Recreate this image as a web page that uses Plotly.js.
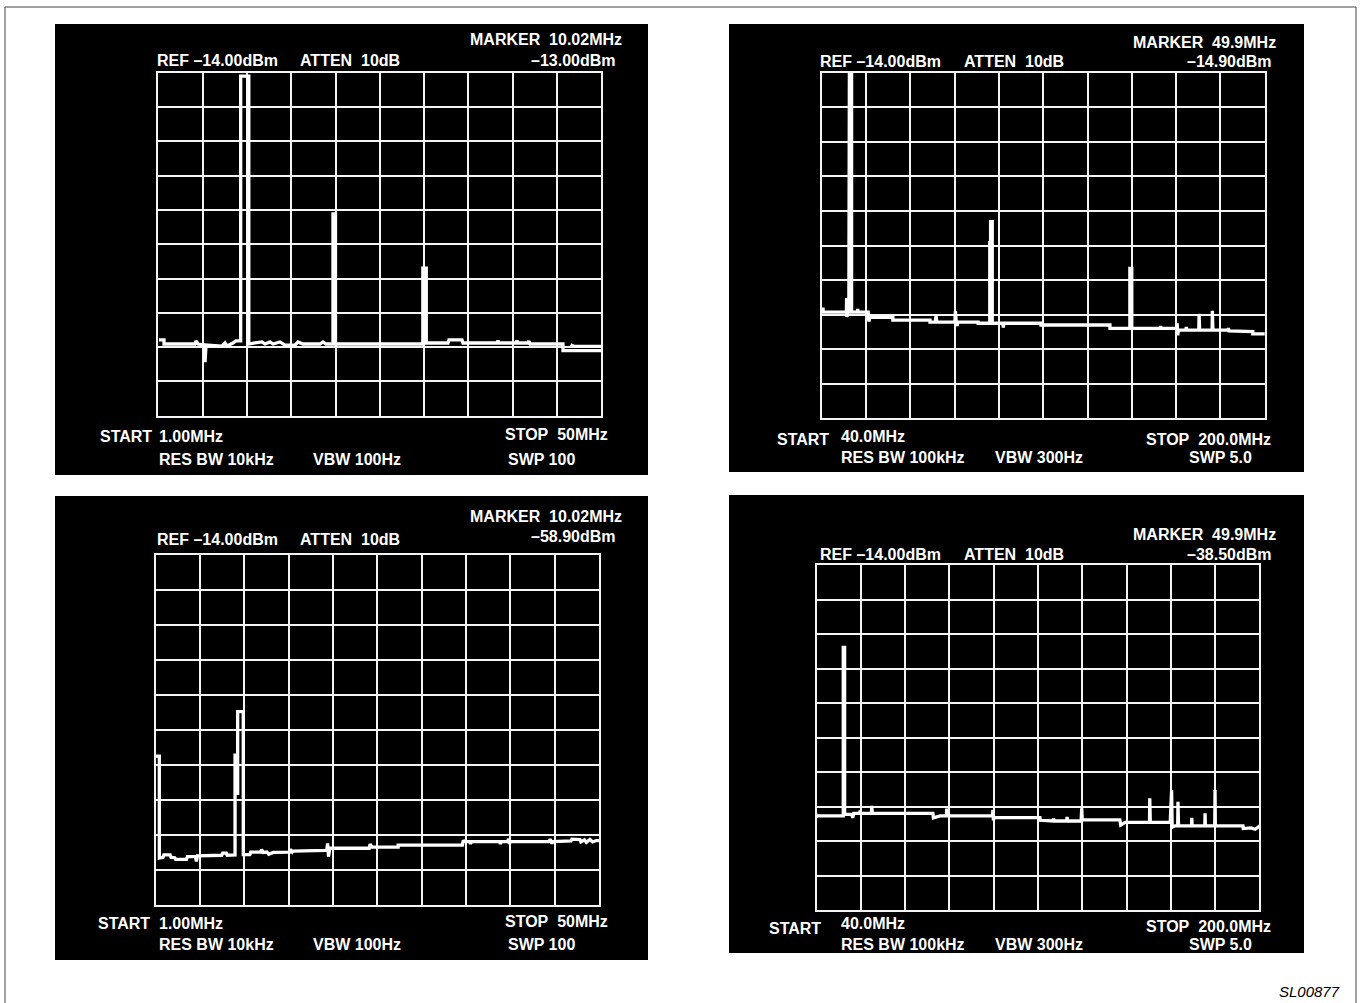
<!DOCTYPE html>
<html>
<head>
<meta charset="utf-8">
<script src="https://cdn.plot.ly/plotly-3.0.1.min.js"></script>
<style>html,body{margin:0;padding:0;background:#fff;}#chart{width:1360px;height:1003px;}</style>
</head>
<body>
<div id="chart"></div>
<script>
// ---------- DATA (frequency in MHz, level in dBm, read from the screens) ----------
const p1Freq  = [1.08,1.63,1.63,5.06,5.17,5.39,6.11,6.17,6.28,8.05,8.38,8.60,9.26,9.59,10.11,10.11,11.01,11.01,11.70,12.47,12.80,13.36,13.69,14.46,15.02,16.12,16.45,17.0,18.89,19.22,19.55,20.32,20.32,20.60,20.60,30.26,30.26,30.64,30.64,33.04,33.15,34.59,34.70,38.46,38.57,38.68,40.56,40.67,40.79,41.89,42.0,42.11,45.76,45.76,50.2,50.2,47.0,46.6];
const p1Level = [-91.9,-91.9,-93.1,-93.1,-92.2,-93.1,-93.4,-98.4,-93.4,-93.7,-92.8,-93.7,-92.8,-92.2,-92.2,-15.0,-15.0,-93.1,-92.8,-92.5,-93.1,-92.5,-93.1,-92.5,-93.4,-93.4,-92.5,-93.1,-93.1,-92.5,-93.1,-93.1,-55.2,-55.2,-93.1,-93.1,-71.0,-71.0,-92.8,-92.8,-91.9,-91.9,-92.8,-92.8,-92.1,-92.8,-92.8,-92.1,-92.8,-92.8,-92.2,-93.1,-93.1,-95.0,-95.0,-93.8,-93.8,-93.3];

const p2Freq  = [39.8,40.5,40.5,48.9,49.0,49.1,49.3,49.8,49.8,50.0,50.0,50.8,50.8,52.8,53.0,53.2,56.8,56.8,57.1,57.3,65.7,65.7,79.1,79.1,81.0,81.3,81.6,88.1,88.3,88.6,88.9,89.2,96.5,96.5,100.7,100.7,101.0,101.0,101.6,101.6,105.4,105.6,105.8,119.2,119.2,144.1,144.1,151.3,151.3,152.0,152.0,162.2,162.4,162.6,168.3,168.4,168.6,168.8,171.5,171.7,171.9,176.2,176.3,176.5,181.0,181.1,181.3,186.7,186.9,187.1,195.7,195.7,201.2];
const p2Level = [-82.4,-82.4,-83.3,-83.3,-79.2,-84.7,-83.3,-83.3,-76.9,-76.9,-13.5,-13.5,-83.3,-83.3,-82.4,-83.3,-83.3,-84.8,-86.0,-84.8,-84.8,-85.6,-85.6,-86.2,-86.2,-84.4,-86.2,-86.2,-83.0,-86.3,-87.3,-86.2,-86.2,-86.5,-86.5,-63.2,-63.2,-57.1,-57.1,-86.5,-86.5,-87.7,-86.5,-86.5,-87.0,-87.0,-88.0,-88.0,-70.6,-70.6,-88.0,-88.0,-87.3,-88.0,-88.0,-86.5,-90.0,-88.5,-88.5,-87.6,-88.5,-88.5,-83.8,-88.5,-88.5,-82.9,-88.5,-88.5,-87.9,-88.7,-88.9,-89.6,-89.6];

const p3Freq  = [1.03,1.40,1.40,1.81,1.9,2.6,2.7,3.1,3.2,4.4,4.5,5.4,5.5,5.6,8.3,8.4,8.8,8.9,9.77,9.77,10.06,10.06,10.06,10.68,10.68,11.4,11.5,12.6,12.7,12.9,13.3,13.5,14.0,15.8,15.9,16.1,16.2,19.8,19.9,20.0,20.1,20.25,24.6,24.7,24.9,25.2,25.4,27.8,27.8,34.9,35.0,35.1,35.7,35.8,35.9,39.0,39.1,39.2,39.9,40.0,40.1,40.2,44.5,44.6,44.8,44.9,46.9,47.0,47.9,48.0,48.4,48.6,49.0,49.3,49.7,50.0];
const p3Level = [-71.5,-71.5,-100.6,-100.4,-99.7,-99.7,-100.4,-100.5,-101.0,-101.0,-100.2,-100.2,-101.6,-100.0,-99.8,-99.2,-99.2,-99.8,-99.7,-71.2,-71.2,-82.6,-58.8,-58.8,-99.6,-99.6,-98.9,-98.9,-98.2,-99.0,-98.9,-99.5,-99.0,-98.9,-98.1,-98.9,-98.6,-98.4,-98.4,-96.4,-100.2,-97.8,-97.8,-96.6,-97.5,-97.5,-97.5,-97.5,-96.9,-96.9,-95.5,-95.9,-95.9,-96.6,-95.9,-95.9,-96.6,-95.9,-95.9,-95.1,-96.6,-95.9,-95.9,-95.2,-96.5,-95.9,-95.7,-95.2,-95.3,-96.0,-95.4,-96.1,-95.3,-96.0,-95.6,-95.6];

const p4Freq  = [39.5,39.6,39.8,40.2,49.6,49.6,50.1,50.1,52.7,53.0,53.4,55.5,55.7,56.0,59.8,59.9,60.1,82.0,82.2,84.6,86.9,87.0,87.2,103.5,103.7,103.9,104.1,120.7,120.8,125.4,125.6,126.0,130.4,130.5,130.7,135.6,135.8,136.0,149.6,149.9,151.5,160.3,160.4,160.6,167.8,168.3,168.5,169.5,170.5,170.6,170.8,175.5,175.6,175.7,180.3,180.4,180.5,183.9,184.0,184.1,194.1,194.2,197.0,198.5,200.2];
const p4Level = [-86.7,-85.8,-87.0,-86.7,-86.7,-37.9,-37.9,-86.3,-86.3,-87.3,-86.0,-86.0,-85.2,-86.0,-86.0,-83.8,-86.0,-86.0,-87.3,-86.7,-86.7,-84.6,-86.7,-86.7,-85.0,-88.0,-87.2,-87.2,-88.0,-88.2,-87.5,-88.2,-88.2,-87.0,-88.2,-88.2,-84.5,-87.9,-87.9,-89.4,-88.6,-88.6,-81.6,-88.6,-88.6,-79.2,-90.0,-89.6,-89.6,-82.6,-89.6,-89.6,-87.3,-89.6,-89.6,-86.0,-89.6,-89.6,-79.2,-89.6,-89.6,-90.4,-90.2,-90.6,-89.6];

// analyzer settings (start/stop MHz, reference level dBm)
const spanStart = [1.0, 40.0, 1.0, 40.0];
const spanStop  = [50.0, 200.0, 50.0, 200.0];
const refLevel  = -14.0;
const dbPerDiv  = 10;

// screen labels
const markerText = ['MARKER\u00a0\u00a010.02MHz','MARKER\u00a0\u00a049.9MHz','MARKER\u00a0\u00a010.02MHz','MARKER\u00a0\u00a049.9MHz'];
const markerLvl  = ['\u201313.00dBm','\u201314.90dBm','\u201358.90dBm','\u201338.50dBm'];
const refText    = 'REF\u00a0\u201314.00dBm';
const attenText  = 'ATTEN\u00a0\u00a010dB';
const startText  = ['1.00MHz','40.0MHz','1.00MHz','40.0MHz'];
const stopText   = ['STOP\u00a0\u00a050MHz','STOP\u00a0\u00a0200.0MHz','STOP\u00a0\u00a050MHz','STOP\u00a0\u00a0200.0MHz'];
const resBwText  = ['RES BW 10kHz','RES BW 100kHz','RES BW 10kHz','RES BW 100kHz'];
const vbwText    = ['VBW 100Hz','VBW 300Hz','VBW 100Hz','VBW 300Hz'];
const swpText    = ['SWP 100','SWP 5.0','SWP 100','SWP 5.0'];
const figCode    = 'SL00877';

// ---------- LAYOUT ----------
const W = 1360, H = 1003;
const px = v => v / W;
const py = v => 1 - v / H;
const FONT = 'Liberation Sans, Arial, Helvetica, sans-serif';

// grid boxes (pixels) and black screen boxes (pixels)
const grids = [
  {x0:158.3, x1:601.3, y0:72.7, y1:415.7},
  {x0:821.7, x1:1264.7, y0:72.7, y1:418.3},
  {x0:155.7, x1:599.0, y0:554.7, y1:905.0},
  {x0:816.7, x1:1259.3, y0:565.0, y1:910.0}
];
const screens = [
  {x0:55, x1:648, y0:24, y1:475},
  {x0:729, x1:1304, y0:24, y1:472},
  {x0:55, x1:648, y0:496, y1:960},
  {x0:729, x1:1304, y0:495, y1:953}
];
// label anchor positions per screen (pixels)
const lab = [
  {mk:[623,40], ml:[617,60], ref:[156,61], att:[299,61], st:[99,436], sv:[158,436], sp:[609,434], rb:[158,459], vb:[312,459], sw:[507,459]},
  {mk:[1277,42], ml:[1273,62], ref:[819,62], att:[963,62], st:[776,439], sv:[840,436], sp:[1272,439], rb:[840,457], vb:[994,457], sw:[1188,457]},
  {mk:[623,516], ml:[617,536], ref:[156,539], att:[299,539], st:[97,923], sv:[158,923], sp:[609,921], rb:[158,944], vb:[312,944], sw:[507,944]},
  {mk:[1277,534], ml:[1273,554], ref:[819,554], att:[963,554], st:[768,928], sv:[840,923], sp:[1272,926], rb:[840,944], vb:[994,944], sw:[1188,944]}
];

const freqs = [p1Freq, p2Freq, p3Freq, p4Freq];
const levels = [p1Level, p2Level, p3Level, p4Level];

const data = [];
const layout = {
  width: W, height: H,
  margin: {l:0, r:0, t:0, b:0},
  paper_bgcolor: '#ffffff',
  plot_bgcolor: '#000000',
  showlegend: false,
  shapes: [],
  annotations: []
};

layout.shapes.push({type:'rect', xref:'paper', yref:'paper', x0:px(5), x1:px(1356), y0:py(1015), y1:py(7),
  line:{color:'#444', width:1}, fillcolor:'rgba(0,0,0,0)', layer:'below'});

function addText(t, p, anchor, size) {
  layout.annotations.push({
    xref:'paper', yref:'paper', x:px(p[0]), y:py(p[1]),
    xanchor:anchor, yanchor:'middle', showarrow:false,
    text:'<b>' + t + '</b>', font:{family:FONT, size:size || 16, color:'#ffffff'},
    borderpad:0
  });
}

for (let i = 0; i < 4; i++) {
  const g = grids[i], s = screens[i];
  const sfx = i === 0 ? '' : String(i + 1);
  layout.shapes.push({type:'rect', xref:'paper', yref:'paper', x0:px(s.x0), x1:px(s.x1), y0:py(s.y1), y1:py(s.y0),
    line:{width:0}, fillcolor:'#000000', layer:'below'});
  const span = spanStop[i] - spanStart[i];
  layout['xaxis' + sfx] = {
    domain:[px(g.x0), px(g.x1)], range:[spanStart[i], spanStop[i]],
    tick0:spanStart[i], dtick:span / 10, showticklabels:false, ticks:'',
    showgrid:true, gridcolor:'#f4f4f4', gridwidth:2, zeroline:false,
    showline:true, linecolor:'#f4f4f4', linewidth:2, mirror:true,
    anchor:'y' + sfx, fixedrange:true
  };
  layout['yaxis' + sfx] = {
    domain:[py(g.y1), py(g.y0)], range:[refLevel - 10 * dbPerDiv, refLevel],
    tick0:refLevel, dtick:dbPerDiv, showticklabels:false, ticks:'',
    showgrid:true, gridcolor:'#f4f4f4', gridwidth:2, zeroline:false,
    showline:true, linecolor:'#f4f4f4', linewidth:2, mirror:true,
    anchor:'x' + sfx, fixedrange:true
  };
  data.push({
    type:'scatter', mode:'lines', x:freqs[i], y:levels[i],
    xaxis:'x' + sfx, yaxis:'y' + sfx,
    line:{color:'#ffffff', width:3.3}, hoverinfo:'skip'
  });
  const L = lab[i];
  addText(markerText[i], L.mk, 'right');
  addText(markerLvl[i], L.ml, 'right');
  addText(refText, L.ref, 'left');
  addText(attenText, L.att, 'left');
  addText('START', L.st, 'left');
  addText(startText[i], L.sv, 'left');
  addText(stopText[i], L.sp, 'right');
  addText(resBwText[i], L.rb, 'left');
  addText(vbwText[i], L.vb, 'left');
  addText(swpText[i], L.sw, 'left');
}

layout.annotations.push({
  xref:'paper', yref:'paper', x:px(1341), y:py(991), xanchor:'right', yanchor:'middle',
  showarrow:false, text:'<i>' + figCode + '</i>', font:{family:FONT, size:15, color:'#000000'}, borderpad:0
});

Plotly.newPlot('chart', data, layout, {staticPlot:true, displayModeBar:false});
</script>
</body>
</html>
